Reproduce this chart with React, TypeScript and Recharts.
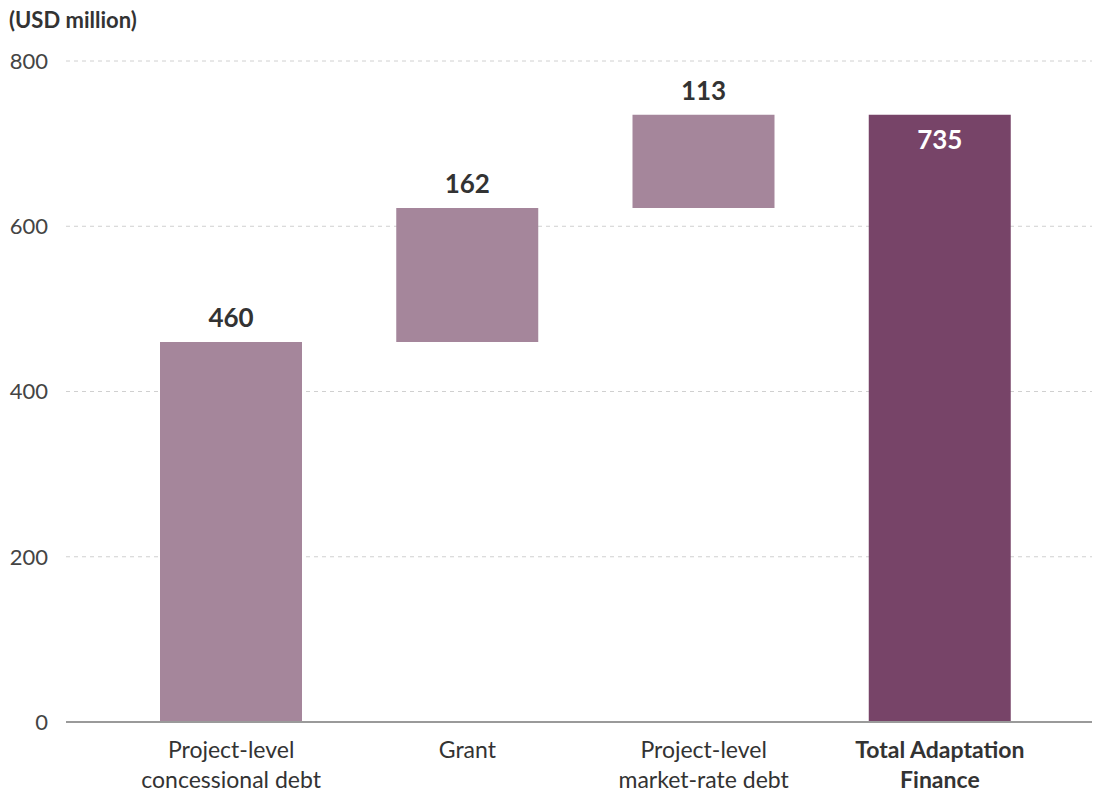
import React from "react";
import { BarChart, Bar, XAxis, YAxis, CartesianGrid, LabelList, Cell } from "recharts";

const categories = ["Project-level\nconcessional debt", "Grant", "Project-level\nmarket-rate debt", "Total Adaptation\nFinance"];
const baseValues = [0, 460, 622, 0];
const barValues = [460, 162, 113, 735];
const isTotal = [false, false, false, true];
const yTicks = [0, 200, 400, 600, 800];

const data = categories.map((c, i) => ({ name: c, base: baseValues[i], value: barValues[i], total: isTotal[i] }));

const FONT = "Lato, 'Open Sans', sans-serif";

const XTick = (props: any) => {
  const { x, y, payload, index } = props;
  const lines = String(payload.value).split("\n");
  const bold = isTotal[index];
  return (
    <text x={x} y={y} textAnchor="middle" fill="#333" fontFamily={FONT} fontSize={23} fontWeight={bold ? 700 : 400}>
      {lines.map((l, i) => (
        <tspan key={i} x={x} dy={i === 0 ? 28 : 30}>{l}</tspan>
      ))}
    </text>
  );
};

const ValueLabel = (props: any) => {
  const { x, y, width, value, index } = props;
  const inside = isTotal[index];
  return (
    <text
      x={x + width / 2}
      y={inside ? y + 34 : y - 15}
      textAnchor="middle"
      fill={inside ? "#fff" : "#333"}
      fontFamily={FONT}
      fontSize={26}
      fontWeight={700}
    >
      {value}
    </text>
  );
};

export default function App() {
  return (
    <div style={{ position: "absolute", left: 0, top: 0, width: 1095, height: 792, background: "#fff" }}>
      <div style={{ position: "absolute", left: 9, top: 6, fontFamily: FONT, fontWeight: 700, fontSize: 22, color: "#333" }}>
        (USD million)
      </div>
      <BarChart width={1095} height={792} data={data} margin={{ top: 61, right: 3, bottom: 40, left: 0 }} barSize={142}>
        <CartesianGrid vertical={false} stroke="#d0d0d0" strokeDasharray="4 4" horizontalValues={[200, 400, 600, 800]} />
        <XAxis
          dataKey="name"
          tickLine={false}
          axisLine={{ stroke: "#9a9a9a", strokeWidth: 2 }}
          tick={<XTick />}
          interval={0}
          padding={{ left: 47, right: 34 }}
        />
        <YAxis
          width={66}
          domain={[0, 800]}
          ticks={yTicks}
          axisLine={false}
          tickLine={false}
          tickSize={0}
          tickMargin={18}
          tick={{ fill: "#444", fontFamily: FONT, fontSize: 22 }}
        />
        <Bar dataKey="base" stackId="a" fill="transparent" isAnimationActive={false} />
        <Bar dataKey="value" stackId="a" isAnimationActive={false}>
          {data.map((d, i) => (
            <Cell key={i} fill={d.total ? "#774468" : "#a5869b"} />
          ))}
          <LabelList dataKey="value" content={<ValueLabel />} />
        </Bar>
      </BarChart>
    </div>
  );
}
